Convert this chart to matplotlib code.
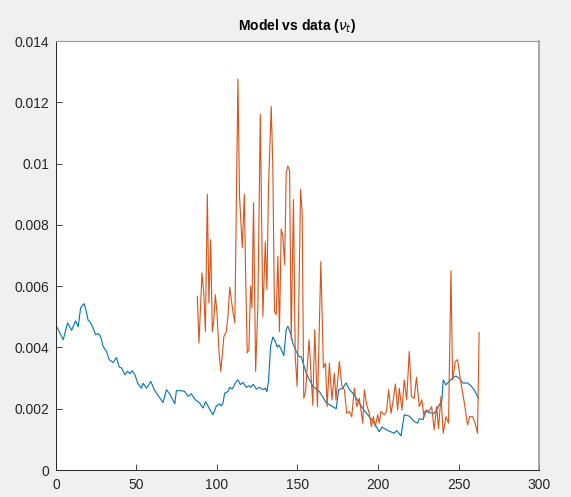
import matplotlib
matplotlib.use("Agg")
import matplotlib.pyplot as plt

# model (blue)
model_t = [0, 1.0, 4.5, 7.2, 9.7, 12.2, 13.8, 15.3, 17.4, 18.6, 20.0, 21.0, 23.1, 24.6,
           26.3, 27.7, 29.3, 31.4, 33.1, 35.5, 37.6, 39.3, 40.7, 42.8, 44.4, 45.9,
           47.3, 49.0, 51.0, 53.1, 54.2, 56.2, 58.9, 60.9, 62.4, 66.5, 68.6, 70.7,
           73.8, 74.8, 77.9, 80.0, 82.0, 84.1, 86.2, 89.3, 91.3, 93.0, 95.1, 97.5,
           99.6, 101.6, 102.7, 103.7, 104.8, 106.8, 107.9, 109.5, 111.6, 113.0,
           114.5, 116.2, 118.2, 119.9, 121.0, 122.5, 124.4, 126.5, 128.5, 130.0,
           131.0, 132.0, 133.3, 134.7, 136.2, 137.4, 138.4, 139.9, 141.5, 143.0,
           144.0, 145.7, 147.1, 149.2, 151.2, 152.3, 155.4, 159.5, 163.6, 167.8,
           171.9, 174.0, 175.6, 178.1, 180.2, 182.3, 185.3, 188.4, 191.5, 194.6,
           197.7, 200.8, 202.5, 206.0, 210.1, 211.6, 214.3, 216.3, 219.4, 222.5,
           224.6, 225.6, 228.1, 229.3, 231.8, 234.9, 236.4, 238.0, 239.6, 240.5,
           242.2, 244.2, 246.3, 248.4, 250.4, 252.5, 255.6, 257.7, 259.7, 262.4]
model_v = [0.00470, 0.00463, 0.00425, 0.00480, 0.00456, 0.00487, 0.00467, 0.00529,
           0.00543, 0.00523, 0.00488, 0.00485, 0.00463, 0.00442, 0.00445, 0.00436,
           0.00403, 0.00387, 0.00360, 0.00351, 0.00367, 0.00336, 0.00333, 0.00311,
           0.00322, 0.00315, 0.00324, 0.00311, 0.00281, 0.00267, 0.00283, 0.00267,
           0.00289, 0.00264, 0.00251, 0.00220, 0.00262, 0.00248, 0.00216, 0.00259,
           0.00259, 0.00256, 0.00240, 0.00249, 0.00231, 0.00218, 0.00202, 0.00223,
           0.00202, 0.00180, 0.00209, 0.00216, 0.00209, 0.00218, 0.00251, 0.00256,
           0.00270, 0.00264, 0.00286, 0.00294, 0.00279, 0.00286, 0.00270, 0.00275,
           0.00270, 0.00280, 0.00264, 0.00270, 0.00262, 0.00267, 0.00256, 0.00290,
           0.00403, 0.00434, 0.00420, 0.00401, 0.00408, 0.00394, 0.00373, 0.00458,
           0.00469, 0.00447, 0.00414, 0.00387, 0.00369, 0.00370, 0.00316, 0.00273,
           0.00256, 0.00220, 0.00207, 0.00200, 0.00262, 0.00267, 0.00284, 0.00262,
           0.00245, 0.00218, 0.00194, 0.00174, 0.00153, 0.00125, 0.00140, 0.00129,
           0.00120, 0.00129, 0.00112, 0.00180, 0.00176, 0.00158, 0.00153, 0.00167,
           0.00165, 0.00193, 0.00187, 0.00185, 0.00196, 0.00213, 0.00223, 0.00294,
           0.00278, 0.00289, 0.00300, 0.00307, 0.00300, 0.00284, 0.00284, 0.00275,
           0.00262, 0.00234]

# data (orange)
data_t = [87.8, 88.8, 90.7, 91.8, 92.8, 94.0, 95.0, 96.1, 97.1, 97.9, 99.0, 100.0,
          101.2, 102.3, 103.4, 104.3, 105.8, 106.8, 107.9, 108.9, 110.0, 111.1,
          113.0, 114.0, 115.7, 117.0, 117.8, 118.8, 119.8, 120.9, 121.7, 122.7,
          124.0, 125.4, 126.9, 128.5, 130.0, 131.0, 132.0, 133.7, 134.7, 135.7,
          136.8, 137.8, 138.8, 139.9, 140.9, 142.0, 143.0, 144.0, 145.1, 146.1,
          147.5, 148.6, 149.8, 150.8, 151.9, 152.9, 153.9, 155.0, 157.2, 159.5,
          160.7, 162.4, 164.5, 166.1, 167.4, 168.4, 169.8, 171.4, 172.9, 173.9,
          176.0, 177.6, 179.1, 180.6, 182.3, 183.7, 185.3, 186.8, 188.4, 190.5,
          191.5, 193.0, 194.6, 195.9, 197.1, 198.3, 199.8, 200.8, 201.8, 203.9,
          205.3, 206.6, 208.1, 209.5, 210.8, 212.2, 213.2, 214.9, 216.3, 217.8,
          219.4, 220.8, 222.5, 223.9, 225.6, 227.2, 228.6, 230.1, 231.7, 233.3,
          234.9, 236.4, 237.6, 239.1, 240.5, 242.2, 243.8, 245.3, 246.3, 248.0,
          249.4, 251.5, 253.5, 255.6, 257.0, 258.7, 260.3, 261.8, 262.8]
data_v = [0.00567, 0.00414, 0.00643, 0.00578, 0.00452, 0.00900, 0.00545, 0.00752,
          0.00452, 0.00480, 0.00572, 0.00513, 0.00393, 0.00322, 0.00382, 0.00436,
          0.00452, 0.00501, 0.00596, 0.00556, 0.00513, 0.00480, 0.01276, 0.00894,
          0.00725, 0.00900, 0.00632, 0.00382, 0.00393, 0.00600, 0.00529, 0.00872,
          0.00322, 0.00534, 0.01161, 0.00501, 0.00744, 0.00589, 0.00927, 0.01186,
          0.00981, 0.00518, 0.00507, 0.00698, 0.00452, 0.00787, 0.00763, 0.00670,
          0.00970, 0.00992, 0.00976, 0.00425, 0.00883, 0.00371, 0.00273, 0.00534,
          0.00916, 0.00840, 0.00234, 0.00255, 0.00425, 0.00211, 0.00458, 0.00207,
          0.00680, 0.00333, 0.00349, 0.00207, 0.00349, 0.00229, 0.00316, 0.00229,
          0.00354, 0.00273, 0.00262, 0.00185, 0.00191, 0.00174, 0.00267, 0.00207,
          0.00234, 0.00153, 0.00262, 0.00213, 0.00185, 0.00142, 0.00174, 0.00142,
          0.00180, 0.00153, 0.00191, 0.00180, 0.00191, 0.00262, 0.00185, 0.00229,
          0.00281, 0.00196, 0.00267, 0.00196, 0.00294, 0.00229, 0.00387, 0.00240,
          0.00234, 0.00303, 0.00207, 0.00229, 0.00174, 0.00196, 0.00191, 0.00207,
          0.00131, 0.00207, 0.00136, 0.00240, 0.00120, 0.00174, 0.00153, 0.00650,
          0.00294, 0.00354, 0.00360, 0.00284, 0.00223, 0.00147, 0.00174, 0.00174,
          0.00153, 0.00120, 0.00449]

xticks = [0, 50, 100, 150, 200, 250, 300]
yticks = [0, 0.002, 0.004, 0.006, 0.008, 0.01, 0.012, 0.014]
ytick_labels = ["0", "0.002", "0.004", "0.006", "0.008", "0.01", "0.012", "0.014"]

plt.rcParams["font.family"] = ["Liberation Sans", "DejaVu Sans"]

fig = plt.figure(figsize=(5.71, 4.97), dpi=100, facecolor="#f0f0f0")
ax = fig.add_axes([0.098, 0.0543, 0.846, 0.8632])
ax.set_facecolor("white")

ax.plot(model_t, model_v, color="#0072BD", lw=0.8)
ax.plot(data_t, data_v, color="#D95319", lw=0.8)

ax.set_xlim(0, 300)
ax.set_ylim(0, 0.014)
ax.set_xticks(xticks)
ax.set_yticks(yticks)
ax.set_yticklabels(ytick_labels)
ax.tick_params(direction="in", length=4, width=0.6, colors="#262626",
               labelsize=10, top=False, right=False)
ax.tick_params(axis="x", pad=6)
ax.tick_params(axis="y", pad=5)

for s in ("left", "bottom"):
    ax.spines[s].set_color("#262626")
    ax.spines[s].set_linewidth(0.7)
ax.spines["top"].set_color("#9a9a9a")
ax.spines["right"].set_color("#9a9a9a")
ax.spines["right"].set_linewidth(1.2)

ax.set_title(r"Model vs data ($\nu_t$)", fontsize=10, fontweight="bold", pad=8)

fig.savefig("out.png", dpi=100, facecolor=fig.get_facecolor())
